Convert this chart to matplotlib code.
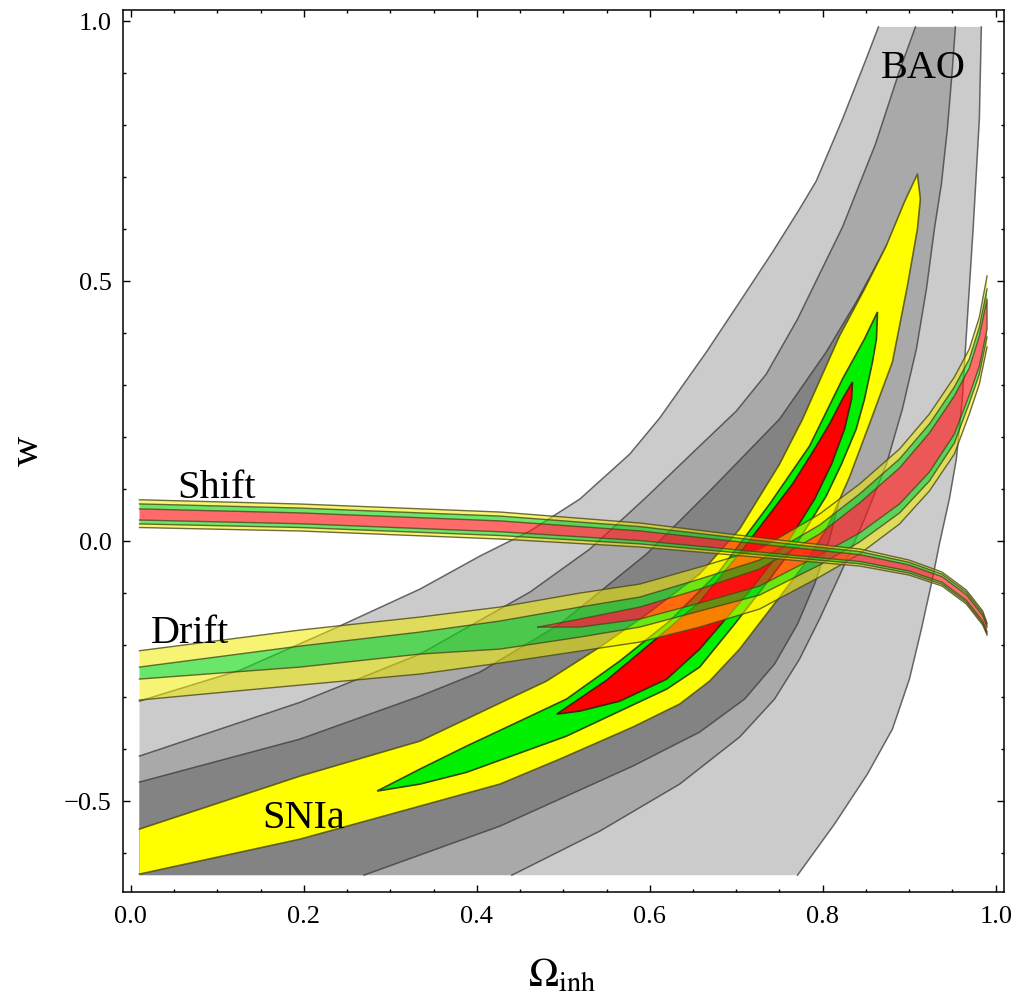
import numpy as np
import matplotlib.pyplot as plt
from matplotlib.path import Path
from matplotlib.patches import PathPatch
from matplotlib.ticker import MultipleLocator

plt.rcParams['font.family'] = ['Liberation Serif', 'DejaVu Serif']
plt.rcParams['mathtext.fontset'] = 'stix'

# plot window of the contour data
x_min, x_max = 0.01, 0.99
y_min, y_max = -0.643, 0.988

# ---- BAO (grey bands), boundary curves ----
bao3_left_x = [0.01, 0.1266, 0.2339, 0.3344, 0.4037, 0.4615, 0.5192, 0.5769, 0.6115, 0.6655,
               0.7039, 0.7420, 0.7732, 0.7925, 0.8229, 0.8502, 0.8644]
bao3_left_y = [-0.3083, -0.2487, -0.1698, -0.0929, -0.0294, 0.0187, 0.0802, 0.1667, 0.2360, 0.3629,
               0.4590, 0.5552, 0.6379, 0.6917, 0.8110, 0.9263, 0.988]
bao3_right_x = [0.9834, 0.9811, 0.9741, 0.9672, 0.9614, 0.9545, 0.9464, 0.9349, 0.9268, 0.9141,
                0.9002, 0.8806, 0.8517, 0.8136, 0.7709]
bao3_right_y = [0.988, 0.8110, 0.6052, 0.4263, 0.2725, 0.1571, 0.0802, -0.0063, -0.0737, -0.1698,
                -0.2663, -0.3621, -0.4486, -0.5448, -0.643]

bao2_left_x = [0.01, 0.1958, 0.3344, 0.4615, 0.5307, 0.5962, 0.6577, 0.7001, 0.7348, 0.7709,
               0.8229, 0.8610, 0.8887, 0.9072]
bao2_left_y = [-0.4140, -0.3106, -0.2179, -0.0987, -0.0160, 0.0840, 0.1821, 0.2494, 0.3206, 0.4263,
               0.6033, 0.7629, 0.9033, 0.988]
bao2_right_x = [0.9534, 0.9499, 0.9441, 0.9372, 0.9291, 0.9199, 0.9083, 0.8921, 0.8737, 0.8483,
                0.8229, 0.7963, 0.7732, 0.7443, 0.7039, 0.6346, 0.5423, 0.4406]
bao2_right_y = [0.988, 0.9071, 0.7917, 0.6860, 0.5994, 0.4840, 0.3687, 0.2533, 0.1475, 0.0417,
                -0.0544, -0.1506, -0.2275, -0.3044, -0.3775, -0.4679, -0.5583, -0.643]

bao1_left_x = [0.01, 0.1958, 0.3344, 0.4037, 0.4961, 0.5962, 0.6693, 0.7501, 0.8040, 0.8387, 0.8737]
bao1_left_y = [-0.4640, -0.3813, -0.2987, -0.2525, -0.1602, -0.0256, 0.0956, 0.2340, 0.3629, 0.4590, 0.5667]
bao1_right_x = [0.8737, 0.8656, 0.8540, 0.8402, 0.8252, 0.8079, 0.7906, 0.7709, 0.7443, 0.7097,
                0.6577, 0.5804, 0.4268, 0.2697]
bao1_right_y = [0.5667, 0.4648, 0.3494, 0.2340, 0.1187, 0.0033, -0.0833, -0.1602, -0.2371, -0.3044,
                -0.3679, -0.4333, -0.5487, -0.643]

# ---- SNIa (opaque yellow / green / red) ----
sn3_top_x = [0.01, 0.1958, 0.3344, 0.4268, 0.4807, 0.5423, 0.6000, 0.6577, 0.7039, 0.7501,
             0.7767, 0.8194, 0.8483, 0.8733, 0.8944, 0.9095]
sn3_top_y = [-0.5544, -0.4525, -0.3852, -0.3121, -0.2698, -0.2044, -0.1371, -0.0640, 0.0225, 0.1475,
             0.2340, 0.3937, 0.4840, 0.5667, 0.6513, 0.7052]
sn3_bot_x = [0.9129, 0.9095, 0.8979, 0.8806, 0.8540, 0.8310, 0.8044, 0.7790, 0.7501, 0.7039,
             0.6693, 0.6346, 0.5804, 0.4961, 0.4268, 0.3344, 0.1958, 0.01]
sn3_bot_y = [0.6571, 0.5994, 0.4898, 0.3437, 0.2244, 0.1225, 0.0225, -0.0448, -0.1083, -0.2083,
             -0.2698, -0.3140, -0.3583, -0.4198, -0.4679, -0.5102, -0.5737, -0.6410]

sn2_x = [0.2848, 0.3344, 0.3883, 0.4499, 0.5038, 0.5654, 0.6231, 0.6808, 0.7386, 0.7848, 0.8229,
         0.8483, 0.8633,
         0.8621, 0.8575, 0.8483, 0.8387, 0.8217, 0.8040, 0.7732, 0.7386, 0.6981, 0.6577, 0.6196,
         0.5654, 0.5038, 0.3883, 0.3344]
sn2_y = [-0.4813, -0.4390, -0.3948, -0.3467, -0.3044, -0.2313, -0.1544, -0.0583, 0.0706, 0.1821, 0.3110,
         0.3879, 0.4398,
         0.3879, 0.3437, 0.2725, 0.2148, 0.1475, 0.0860, 0.0033, -0.0737, -0.1602, -0.2429, -0.2852,
         -0.3275, -0.3756, -0.4452, -0.4679]

sn1_x = [0.4926, 0.5504, 0.6058, 0.6577, 0.7097, 0.7651, 0.7906, 0.8079, 0.8229, 0.8344,
         0.8333, 0.8252, 0.8102, 0.7906, 0.7617, 0.7155, 0.6577, 0.6196, 0.5654, 0.5192]
sn1_y = [-0.3333, -0.2679, -0.1910, -0.1179, -0.0121, 0.1090, 0.1763, 0.2244, 0.2725, 0.3052,
         0.2725, 0.2148, 0.1475, 0.0802, 0.0033, -0.0967, -0.2083, -0.2660, -0.3083, -0.3275]

# ---- Shift (thin transparent band) ----
shift_x = [0.01, 0.196, 0.427, 0.589, 0.750, 0.843, 0.900, 0.938, 0.966, 0.985, 0.99]
shift_y3_top = [0.0788, 0.0706, 0.0552, 0.0340, 0.0013, -0.0160, -0.0372, -0.0602, -0.0948, -0.1352, -0.1583]
shift_y2_top = [0.0708, 0.0628, 0.0474, 0.0271, -0.0042, -0.0209, -0.0415, -0.0642, -0.0988, -0.1392, -0.1618]
shift_y1_top = [0.0612, 0.0535, 0.0381, 0.0188, -0.0107, -0.0268, -0.0467, -0.0691, -0.1037, -0.1441, -0.1659]
shift_y1_bot = [0.0398, 0.0327, 0.0173, 0.0003, -0.0253, -0.0399, -0.0582, -0.0798, -0.1144, -0.1548, -0.1751]
shift_y2_bot = [0.0323, 0.0254, 0.0100, -0.0061, -0.0305, -0.0444, -0.0623, -0.0836, -0.1182, -0.1586, -0.1783]
shift_y3_bot = [0.0254, 0.0187, 0.0033, -0.0121, -0.0352, -0.0487, -0.0660, -0.0871, -0.1217, -0.1621, -0.1813]

# ---- Drift (wider transparent band) ----
drift_x = [0.01, 0.1958, 0.3344, 0.4268, 0.5192, 0.5885, 0.6577, 0.7270, 0.7963, 0.8425,
           0.8887, 0.9233, 0.9522, 0.9695, 0.9811, 0.99]
drift_y3_top = [-0.2115, -0.1717, -0.1467, -0.1275, -0.1006, -0.0833, -0.0506, -0.0160, 0.0513, 0.1090,
                0.1763, 0.2437, 0.3148, 0.3687, 0.4302, 0.5090]
drift_y2_top = [-0.2429, -0.2025, -0.1756, -0.1544, -0.1275, -0.1083, -0.0737, -0.0371, 0.0302, 0.0898,
                0.1571, 0.2244, 0.2956, 0.3494, 0.4110, 0.4840]
drift_y2_bot = [-0.2660, -0.2429, -0.2179, -0.2083, -0.1852, -0.1660, -0.1352, -0.1044, -0.0467, -0.0025,
                0.0533, 0.1148, 0.1879, 0.2648, 0.3206, 0.3917]
drift_y3_bot = [-0.3063, -0.2775, -0.2563, -0.2352, -0.2121, -0.1948, -0.1660, -0.1313, -0.0698, -0.0256,
                0.0321, 0.0956, 0.1667, 0.2437, 0.3013, 0.3725]
drift_red_x = [0.4707, 0.5192, 0.5885, 0.6577, 0.7270, 0.7963, 0.8425, 0.8887, 0.9233, 0.9522,
               0.9695, 0.9811, 0.99]
drift_red_top = [-0.1660, -0.1506, -0.1275, -0.0929, -0.0544, 0.0129, 0.0725, 0.1398, 0.2071, 0.2783,
                 0.3321, 0.3937, 0.4648]
drift_red_bot = [-0.1660, -0.1660, -0.1506, -0.1198, -0.0871, -0.0275, 0.0148, 0.0706, 0.1321, 0.2052,
                 0.2802, 0.3360, 0.4071]

x_ticks = [0.0, 0.2, 0.4, 0.6, 0.8, 1.0]
x_tick_labels = ['0.0', '0.2', '0.4', '0.6', '0.8', '1.0']
y_ticks = [-0.5, 0.0, 0.5, 1.0]
y_tick_labels = ['\u22120.5', '0.0', '0.5', '1.0']


def ring(xs, ys, ccw=True):
    v = np.column_stack([xs, ys]).astype(float)
    area = 0.5 * np.sum(v[:, 0] * np.roll(v[:, 1], -1) - np.roll(v[:, 0], -1) * v[:, 1])
    if (area > 0) != ccw:
        v = v[::-1]
    return v


def region(ax, outer, holes=(), **kw):
    verts, codes = [], []
    for k, r in enumerate([outer] + list(holes)):
        r = ring(r[0], r[1], ccw=(k == 0))
        verts += list(r) + [r[0]]
        codes += [Path.MOVETO] + [Path.LINETO] * (len(r) - 1) + [Path.CLOSEPOLY]
    ax.add_patch(PathPatch(Path(verts, codes), zorder=1, **kw))


def band(x, lo, hi):
    return (list(x) + list(x)[::-1], list(hi) + list(lo)[::-1])


fig = plt.figure(figsize=(10.16, 9.95), dpi=100)
ax = fig.add_axes([0.1206, 0.1022, 0.8676, 0.887])

# zorder 1 everywhere below, so things stack in the order they are added
grey_line = dict(color='#3a3a3a', lw=1.1, alpha=0.75, zorder=1)

# BAO: outer (light), middle (medium), inner (dark)
region(ax, (bao3_left_x + bao3_right_x + [x_min], bao3_left_y + bao3_right_y + [y_min]),
       facecolor='#cbcbcb', edgecolor='none')
region(ax, (bao2_left_x + bao2_right_x + [x_min], bao2_left_y + bao2_right_y + [y_min]),
       facecolor='#a9a9a9', edgecolor='none')
region(ax, (bao1_left_x + bao1_right_x + [x_min], bao1_left_y + bao1_right_y + [y_min]),
       facecolor='#838383', edgecolor='none')
for cx, cy in [(bao3_left_x, bao3_left_y), (bao3_right_x, bao3_right_y),
               (bao2_left_x, bao2_left_y), (bao2_right_x, bao2_right_y),
               (bao1_left_x, bao1_left_y), (bao1_right_x, bao1_right_y)]:
    ax.plot(cx, cy, **grey_line)

# SNIa
region(ax, (sn3_top_x + sn3_bot_x, sn3_top_y + sn3_bot_y), facecolor='#ffff00', edgecolor='none')
ax.plot(sn3_top_x + sn3_bot_x, sn3_top_y + sn3_bot_y, color='#4a4a10', lw=1.2, alpha=0.8, zorder=1)
region(ax, (sn2_x, sn2_y), facecolor='#00f000', edgecolor='#2d4d10', lw=1.2)
region(ax, (sn1_x, sn1_y), facecolor='#ff0000', edgecolor='#4a2010', lw=1.2)

# Drift
yel = dict(facecolor=(0.95, 0.92, 0.0), alpha=0.55, edgecolor='none')
grn = dict(facecolor=(0.1, 0.85, 0.1), alpha=0.65, edgecolor='none')
red = dict(facecolor=(1.0, 0.1, 0.1), alpha=0.65, edgecolor='none')
edge = dict(color='#4a4a18', lw=1.0, alpha=0.8, zorder=1)

d_outer = band(drift_x, drift_y3_bot, drift_y3_top)
d_green = band(drift_x, drift_y2_bot, drift_y2_top)
d_red = band(drift_red_x, drift_red_bot, drift_red_top)
region(ax, d_outer, [d_green], **yel)
region(ax, d_green, [d_red], **grn)
region(ax, d_red, **red)
for cy in [drift_y3_top, drift_y2_top, drift_y2_bot, drift_y3_bot]:
    ax.plot(drift_x, cy, **edge)
ax.plot(d_red[0] + [d_red[0][0]], d_red[1] + [d_red[1][0]], **edge)

# Shift
s_outer = band(shift_x, shift_y3_bot, shift_y3_top)
s_green = band(shift_x, shift_y2_bot, shift_y2_top)
s_red = band(shift_x, shift_y1_bot, shift_y1_top)
region(ax, s_outer, [s_green], **yel)
region(ax, s_green, [s_red], **grn)
region(ax, s_red, **red)
for cy in [shift_y3_top, shift_y2_top, shift_y1_top, shift_y1_bot, shift_y2_bot, shift_y3_bot]:
    ax.plot(shift_x, cy, **edge)

# labels inside the plot
lab = dict(fontsize=29, color='black')
ax.text(0.867, 0.891, 'BAO', **lab)
ax.text(0.054, 0.084, 'Shift', **lab)
ax.text(0.023, -0.195, 'Drift', **lab)
ax.text(0.152, -0.551, 'SNIa', **lab)

ax.set_xlim(-0.0096, 1.0096)
ax.set_ylim(-0.676, 1.021)
ax.set_xticks(x_ticks)
ax.set_xticklabels(x_tick_labels)
ax.set_yticks(y_ticks)
ax.set_yticklabels(y_tick_labels)
ax.xaxis.set_minor_locator(MultipleLocator(0.05))
ax.yaxis.set_minor_locator(MultipleLocator(0.1))
ax.tick_params(which='both', direction='in', top=True, right=True, width=1, labelsize=19)
ax.tick_params(which='major', length=5)
ax.tick_params(which='minor', length=2.5)
ax.tick_params(axis='y', pad=8)
ax.tick_params(axis='x', pad=9)
for s in ax.spines.values():
    s.set_linewidth(1.1)

fig.text(0.027, 0.547, 'w', rotation=90, fontsize=30, ha='center', va='center')
fig.text(0.553, 0.018, r'$\Omega_{\rm inh}$', fontsize=29, ha='center', va='center')

fig.savefig('out.png', dpi=100)
